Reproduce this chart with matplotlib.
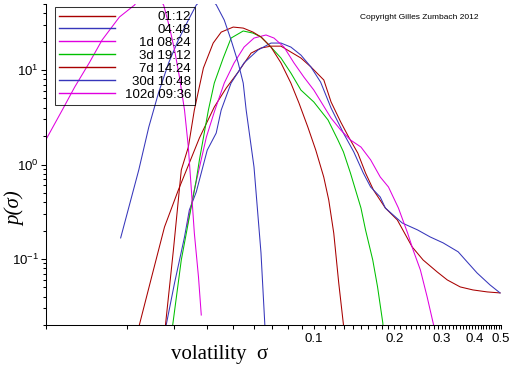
import numpy as np
import matplotlib
matplotlib.use('Agg')
import matplotlib.pyplot as plt
from matplotlib.ticker import FixedLocator, FixedFormatter, LogLocator, NullFormatter, LogFormatterSciNotation

plt.rcParams['font.family'] = ['Liberation Sans', 'DejaVu Sans']
plt.rcParams['mathtext.fontset'] = 'custom'
plt.rcParams['mathtext.rm'] = 'Liberation Sans'
plt.rcParams['mathtext.it'] = 'Liberation Sans:italic'
plt.rcParams['mathtext.default'] = 'regular'

labels = ['01:12', '04:48', '1d 08:24', '3d 19:12', '7d 14:24', '30d 10:48', '102d 09:36']
colors = ['#a80000', '#3636bb', '#e000e0', '#00c000', '#a80000', '#3636bb', '#e000e0']

sigma_0112 = [0.0221, 0.0248, 0.0277, 0.0312, 0.0343, 0.0374, 0.0425, 0.0471, 0.0522, 0.0583,
              0.0635, 0.0692, 0.0754, 0.0821, 0.0895, 0.0975, 0.109, 0.116, 0.126, 0.135,
              0.146, 0.156, 0.167, 0.185, 0.205, 0.233, 0.256, 0.289, 0.315, 0.352,
              0.393, 0.444, 0.496]
p_0112 = [0.018, 0.0645, 0.218, 0.537, 1.04, 1.91, 4.06, 6.45, 9.52, 15.1,
          17.1, 17.9, 17.9, 15.5, 13.4, 10.8, 7.84, 4.59, 2.82, 1.95,
          1.32, 0.813, 0.537, 0.346, 0.259, 0.134, 0.0975, 0.0728, 0.060, 0.0506,
          0.047, 0.0448, 0.0437]

sigma_0448 = [0.0279, 0.0302, 0.0329, 0.0343, 0.0364, 0.0400, 0.0432, 0.0451, 0.0491, 0.0549,
              0.0619, 0.0692, 0.0754, 0.0821, 0.0895, 0.0975, 0.106, 0.116, 0.129, 0.141,
              0.153, 0.163, 0.177, 0.185, 0.214, 0.244, 0.272, 0.304, 0.346, 0.374,
              0.407, 0.455, 0.496]
p_0448 = [0.018, 0.0557, 0.171, 0.330, 0.512, 1.42, 2.15, 3.77, 7.28, 11.9,
          16.3, 19.3, 19.3, 17.5, 14.4, 10.8, 7.46, 3.96, 2.15, 1.36,
          0.813, 0.578, 0.453, 0.346, 0.240, 0.203, 0.171, 0.148, 0.119, 0.0929,
          0.0711, 0.0531, 0.0437]

sigma_1d = [0.0337, 0.0358, 0.0397, 0.0425, 0.0463, 0.0504, 0.0549, 0.0598, 0.0663, 0.0710,
            0.0774, 0.0843, 0.0918, 0.100, 0.116, 0.126, 0.137, 0.150, 0.163, 0.177,
            0.190, 0.207, 0.224, 0.235, 0.250, 0.265, 0.279, 0.285]
p_1d = [0.229, 0.537, 1.95, 3.6, 7.28, 11.9, 17.5, 21.8, 23.5, 21.8,
        17.5, 11.9, 8.43, 6.14, 3.10, 2.32, 1.82, 1.53, 1.12, 0.738,
        0.578, 0.346, 0.188, 0.124, 0.0765, 0.0396, 0.021, 0.016]

sigma_3d = [0.0295, 0.0320, 0.0343, 0.0364, 0.0374, 0.0404, 0.0425, 0.0459, 0.0491, 0.0545,
            0.0593, 0.0635, 0.0692, 0.0754, 0.0821, 0.0895, 0.100, 0.113, 0.123, 0.129,
            0.137, 0.150, 0.156, 0.166, 0.173, 0.181, 0.182]
p_3d = [0.017, 0.0975, 0.278, 0.686, 1.12, 3.77, 7.28, 13.4, 21.8, 25.9,
        24.6, 22.4, 17.5, 13.4, 9.30, 6.14, 4.59, 2.96, 1.82, 1.36,
        0.813, 0.346, 0.203, 0.0975, 0.0506, 0.021, 0.016]

sigma_7d = [0.0277, 0.0299, 0.0320, 0.0340, 0.0358, 0.0387, 0.0421, 0.0451, 0.0500, 0.0545,
            0.0593, 0.0635, 0.0692, 0.0754, 0.0821, 0.0880, 0.0950, 0.1017, 0.1089, 0.1137,
            0.1187, 0.1239, 0.1293, 0.1304]
p_7d = [0.016, 0.124, 0.874, 1.53, 3.77, 10.5, 19.3, 25.2, 28.5, 27.8,
        25.2, 22.4, 17.5, 11.9, 7.28, 4.48, 2.49, 1.42, 0.738, 0.421,
        0.188, 0.0557, 0.0191, 0.0157]

sigma_30d = [0.0190, 0.0222, 0.0242, 0.0263, 0.0287, 0.0312, 0.0340, 0.0364, 0.0397, 0.0432,
             0.0463, 0.0491, 0.0522, 0.0545, 0.0559, 0.0598, 0.0635, 0.0657, 0.0663]
p_30d = [0.167, 0.874, 2.49, 5.71, 11.9, 20.8, 33.8, 48.7, 62.0, 49.2,
         33.8, 20.8, 11.9, 7.28, 3.77, 0.94, 0.116, 0.0191, 0.0157]

sigma_102d = [0.0097, 0.0115, 0.0128, 0.0145, 0.0162, 0.0188, 0.0214, 0.0243, 0.0275, 0.0289,
              0.0302, 0.0315, 0.0329, 0.0340, 0.0349, 0.0358, 0.0371, 0.0380]
p_102d = [1.57, 3.77, 6.61, 11.9, 20.8, 36.4, 48.7, 80.0, 48.7, 28.5,
          16.3, 8.43, 3.77, 1.53, 0.537, 0.188, 0.0645, 0.0255]

series_sigma = [sigma_0112, sigma_0448, sigma_1d, sigma_3d, sigma_7d, sigma_30d, sigma_102d]
series_p = [p_0112, p_0448, p_1d, p_3d, p_7d, p_30d, p_102d]

x_major = [0.01, 0.1, 0.2, 0.3, 0.4, 0.5]
x_major_labels = ['', '0.1', '0.2', '0.3', '0.4', '0.5']

fig = plt.figure(figsize=(5.12, 3.66), dpi=100)
ax = fig.add_axes([46 / 512, (366 - 325) / 366, 455 / 512, 321 / 366])

for s, p, c, lab in zip(series_sigma, series_p, colors, labels):
    ax.plot(s, p, color=c, lw=0.75, label=lab)

ax.set_xscale('log')
ax.set_yscale('log')
ax.set_xlim(0.01, 0.5)
ax.set_ylim(0.02, 50)

ax.spines['top'].set_visible(False)
ax.spines['right'].set_visible(False)
for sp in ('left', 'bottom'):
    ax.spines[sp].set_linewidth(0.75)
    ax.spines[sp].set_color('black')

minor_x = [k / 100 for k in range(2, 10)] + [k / 100 for k in range(11, 50) if k % 10 != 0]
ax.xaxis.set_major_locator(FixedLocator(x_major))
ax.xaxis.set_major_formatter(FixedFormatter(x_major_labels))
ax.xaxis.set_minor_locator(FixedLocator(minor_x))
ax.xaxis.set_minor_formatter(NullFormatter())

ax.yaxis.set_major_locator(LogLocator(base=10, numticks=10))
ax.yaxis.set_minor_locator(LogLocator(base=10, subs=np.arange(2, 10), numticks=10))
ax.yaxis.set_major_formatter(LogFormatterSciNotation())
ax.yaxis.set_minor_formatter(NullFormatter())

ax.tick_params(axis='x', which='both', direction='out', length=3, width=0.75, labelsize=9.5, pad=3)
ax.tick_params(axis='y', which='major', direction='out', length=3.6, width=0.75, labelsize=9.5, pad=1.5)
ax.tick_params(axis='y', which='minor', direction='out', length=2.2, width=0.75)

ax.set_xlabel('volatility  σ', family='Liberation Serif', fontsize=15)
ax.xaxis.set_label_coords(0.382, -0.062)
ax.set_ylabel('p(σ)', family='Liberation Serif', style='italic', fontsize=15)
ax.yaxis.label.set_va('center')
ax.yaxis.label.set_ha('center')
ax.yaxis.set_label_coords(-0.068, 0.364)

ax.text(0.82, 0.958, 'Copyright Gilles Zumbach 2012', transform=ax.transAxes,
        ha='center', va='center', fontsize=6)

leg = ax.legend(loc='upper left', bbox_to_anchor=(0.0198, 0.9907), borderaxespad=0,
                frameon=True, fancybox=False, facecolor='none', edgecolor='black',
                fontsize=9.5, handlelength=4.24, handletextpad=0.5, labelspacing=0.05,
                borderpad=0.3)
leg.get_frame().set_linewidth(0.75)
for ln, c in zip(leg.get_lines(), colors):
    ln.set_color(c)
    ln.set_linewidth(1.0)
try:
    col = leg._legend_handle_box.get_children()[0]
    for row in col.get_children():
        row.mode = 'expand'
        row.width = 132
except Exception:
    pass

fig.savefig('out.png', dpi=100)
